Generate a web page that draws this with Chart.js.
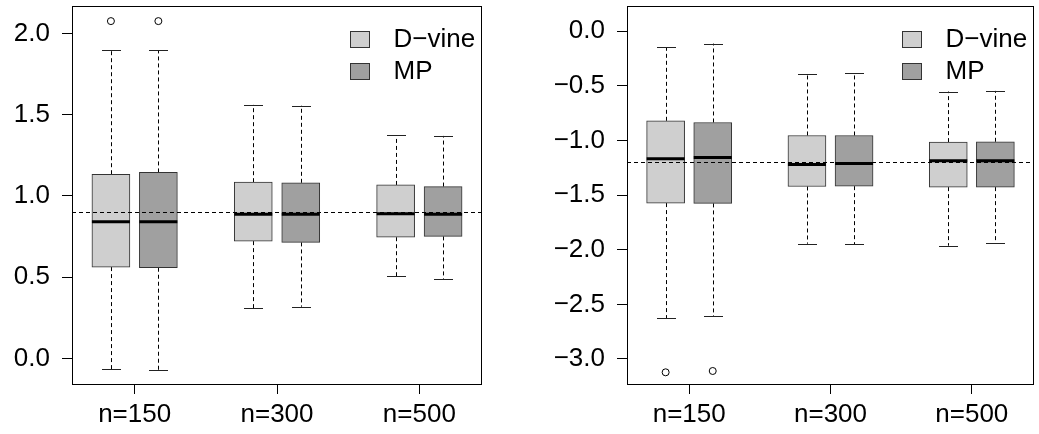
<!DOCTYPE html>
<html>
<head>
<meta charset="utf-8">
<script src="https://cdn.jsdelivr.net/npm/chart.js@4/dist/chart.umd.min.js"></script>
<style>
  html, body { margin: 0; padding: 0; background: #fff; }
  #wrap { position: relative; width: 1039px; height: 434px; overflow: hidden; }
  #c1 { position: absolute; left: 0; top: 0; }
  #c2 { position: absolute; left: 520px; top: 0; }
</style>
</head>
<body>
<div id="wrap">
  <canvas id="c1" width="520" height="434"></canvas>
  <canvas id="c2" width="519" height="434"></canvas>
</div>
<script>
// ---------- data ----------
const categories = ['n=150', 'n=300', 'n=500'];
const seriesNames = ['D\u2212vine', 'MP'];

// left panel
const leftDvineLow  = [-0.066, 0.310, 0.506];
const leftDvineQ1   = [0.562, 0.722, 0.746];
const leftDvineMed  = [0.841, 0.888, 0.890];
const leftDvineQ3   = [1.134, 1.085, 1.068];
const leftDvineHigh = [1.901, 1.561, 1.374];
const leftDvineOut  = [[2.077], [], []];

const leftMPLow  = [-0.072, 0.318, 0.486];
const leftMPQ1   = [0.558, 0.714, 0.751];
const leftMPMed  = [0.841, 0.888, 0.888];
const leftMPQ3   = [1.145, 1.081, 1.058];
const leftMPHigh = [1.899, 1.557, 1.370];
const leftMPOut  = [[2.077], [], []];

const leftRef = 0.9;
const leftYTicks = [0, 0.5, 1, 1.5, 2];

// right panel
const rightDvineLow  = [-2.628, -1.945, -1.963];
const rightDvineQ1   = [-1.573, -1.421, -1.427];
const rightDvineMed  = [-1.168, -1.219, -1.186];
const rightDvineQ3   = [-0.820, -0.954, -1.015];
const rightDvineHigh = [-0.146, -0.393, -0.552];
const rightDvineOut  = [[-3.122], [], []];

const rightMPLow  = [-2.610, -1.948, -1.942];
const rightMPQ1   = [-1.576, -1.418, -1.427];
const rightMPMed  = [-1.155, -1.210, -1.186];
const rightMPQ3   = [-0.835, -0.954, -1.012];
const rightMPHigh = [-0.113, -0.381, -0.546];
const rightMPOut  = [[-3.110], [], []];

const rightRef = -1.2;
const rightYTicks = [-3, -2.5, -2, -1.5, -1, -0.5, 0];

// ---------- styling ----------
const FONT = '"Liberation Sans", Arial, Helvetica, sans-serif';
const FONT_SIZE = 26;
const fills = ['#cfcfcf', '#a0a0a0'];
const groupPos = [1, 2, 3];
const offsets = [-1/6, 1/6];
const BOX_PX = 38;

function fmt(v) {
  return v.toFixed(1).replace('-', '\u2212');
}

function makeSeries(low, q1, med, q3, high, out) {
  return { low, q1, med, q3, high, out };
}

const boxPlugin = {
  id: 'boxExtras',
  beforeDatasetsDraw(chart, args, opts) {
    const ctx = chart.ctx;
    const xs = chart.scales.x, ys = chart.scales.y;
    ctx.save();
    opts.series.forEach((s, si) => {
      groupPos.forEach((g, gi) => {
        const x = Math.round(xs.getPixelForValue(g + offsets[si])) + 0.5;
        const yLow = ys.getPixelForValue(s.low[gi]);
        const yQ1 = ys.getPixelForValue(s.q1[gi]);
        const yQ3 = ys.getPixelForValue(s.q3[gi]);
        const yHigh = ys.getPixelForValue(s.high[gi]);
        ctx.strokeStyle = '#000';
        ctx.lineWidth = 1;
        ctx.setLineDash([4, 3]);
        ctx.beginPath();
        ctx.moveTo(x, yQ3); ctx.lineTo(x, yHigh);
        ctx.moveTo(x, yQ1); ctx.lineTo(x, yLow);
        ctx.stroke();
        ctx.setLineDash([]);
        ctx.strokeStyle = '#222';
        ctx.beginPath();
        const half = BOX_PX / 4;
        const yl = Math.round(yLow) + 0.5, yh = Math.round(yHigh) + 0.5;
        ctx.moveTo(x - half, yh); ctx.lineTo(x + half, yh);
        ctx.moveTo(x - half, yl); ctx.lineTo(x + half, yl);
        ctx.stroke();
      });
    });
    ctx.restore();
  },
  afterDatasetsDraw(chart, args, opts) {
    const ctx = chart.ctx;
    const xs = chart.scales.x, ys = chart.scales.y;
    const a = chart.chartArea;
    ctx.save();
    // medians
    opts.series.forEach((s, si) => {
      groupPos.forEach((g, gi) => {
        const x = xs.getPixelForValue(g + offsets[si]);
        const y = ys.getPixelForValue(s.med[gi]);
        ctx.strokeStyle = '#000';
        ctx.lineWidth = 3;
        ctx.beginPath();
        ctx.moveTo(x - BOX_PX / 2, y); ctx.lineTo(x + BOX_PX / 2, y);
        ctx.stroke();
      });
    });
    // reference line
    const yr = Math.round(ys.getPixelForValue(opts.ref)) + 0.5;
    ctx.lineWidth = 1;
    ctx.strokeStyle = '#000';
    ctx.setLineDash([4, 3]);
    ctx.beginPath();
    ctx.moveTo(a.left, yr); ctx.lineTo(a.right, yr);
    ctx.stroke();
    ctx.setLineDash([]);
    // frame
    ctx.strokeStyle = '#000';
    ctx.lineWidth = 1;
    ctx.strokeRect(Math.round(a.left) + 0.5, Math.round(a.top) + 0.5,
                   Math.round(a.right) - Math.round(a.left) - 1, Math.round(a.bottom) - Math.round(a.top));
    // legend
    const sx = a.right - 132;
    const rowY = [a.top + 33, a.top + 65];
    ctx.font = FONT_SIZE + 'px ' + FONT;
    ctx.textBaseline = 'middle';
    ctx.textAlign = 'left';
    chart.data.datasets.forEach((ds, i) => {
      if (ds.type === 'scatter') return;
      const y = rowY[i];
      ctx.fillStyle = ds.backgroundColor;
      ctx.fillRect(Math.round(sx) + 0.5, Math.round(y - 8) + 0.5, 19, 16);
      ctx.strokeStyle = '#333';
      ctx.lineWidth = 1;
      ctx.strokeRect(Math.round(sx) + 0.5, Math.round(y - 8) + 0.5, 19, 16);
      ctx.fillStyle = '#000';
      ctx.fillText(ds.label, sx + 43.5, y + 1);
    });
    ctx.restore();
  }
};

function buildChart(canvasId, series, yTicks, yMin, yMax, ref, yWidth, padRight) {
  const datasets = [];
  series.forEach((s, si) => {
    datasets.push({
      type: 'bar',
      label: seriesNames[si],
      data: groupPos.map((g, gi) => ({ x: g + offsets[si], y: [s.q1[gi], s.q3[gi]] })),
      backgroundColor: fills[si],
      borderColor: '#333',
      borderWidth: 1,
      borderSkipped: false,
      barThickness: BOX_PX,
      grouped: false
    });
  });
  series.forEach((s, si) => {
    const pts = [];
    groupPos.forEach((g, gi) => s.out[gi].forEach(v => pts.push({ x: g + offsets[si], y: v })));
    datasets.push({
      type: 'scatter',
      label: seriesNames[si] + ' outliers',
      data: pts,
      pointRadius: 3.5,
      pointBorderWidth: 1,
      pointBorderColor: '#000',
      pointBackgroundColor: 'rgba(0,0,0,0)'
    });
  });

  return new Chart(document.getElementById(canvasId), {
    type: 'bar',
    data: { datasets },
    plugins: [boxPlugin],
    options: {
      responsive: false,
      devicePixelRatio: 1,
      animation: false,
      layout: { padding: { top: 6, right: padRight, left: 0, bottom: 0 } },
      plugins: {
        legend: { display: false },
        tooltip: { enabled: false },
        boxExtras: { series, ref }
      },
      scales: {
        x: {
          type: 'linear',
          min: 0.56,
          max: 3.44,
          offset: false,
          border: { display: false },
          grid: { offset: false, drawOnChartArea: false, drawTicks: true, tickLength: 10, color: '#000', tickColor: '#000' },
          ticks: {
            padding: 5,
            color: '#000',
            font: { family: FONT, size: FONT_SIZE },
            maxRotation: 0,
            autoSkip: false,
            callback: (v) => {
              const i = groupPos.indexOf(v);
              return i >= 0 ? categories[i] : '';
            }
          },
          afterBuildTicks: (sc) => { sc.ticks = groupPos.map(v => ({ value: v })); },
          afterFit: (sc) => { sc.height = 50; sc.paddingLeft = 0; sc.paddingRight = 0; }
        },
        y: {
          type: 'linear',
          min: yMin,
          max: yMax,
          border: { display: false },
          grid: { offset: false, drawOnChartArea: false, drawTicks: true, tickLength: 10, color: '#000', tickColor: '#000' },
          ticks: {
            padding: 12,
            color: '#000',
            font: { family: FONT, size: FONT_SIZE },
            autoSkip: false,
            callback: (v) => fmt(v)
          },
          afterBuildTicks: (sc) => { sc.ticks = yTicks.map(v => ({ value: v })); },
          afterFit: (sc) => { sc.width = yWidth; sc.paddingTop = 0; sc.paddingBottom = 0; }
        }
      }
    }
  });
}

buildChart('c1',
  [makeSeries(leftDvineLow, leftDvineQ1, leftDvineMed, leftDvineQ3, leftDvineHigh, leftDvineOut),
   makeSeries(leftMPLow, leftMPQ1, leftMPMed, leftMPQ3, leftMPHigh, leftMPOut)],
  leftYTicks, -0.158, 2.17, leftRef, 72, 38);

buildChart('c2',
  [makeSeries(rightDvineLow, rightDvineQ1, rightDvineMed, rightDvineQ3, rightDvineHigh, rightDvineOut),
   makeSeries(rightMPLow, rightMPQ1, rightMPMed, rightMPQ3, rightMPHigh, rightMPOut)],
  rightYTicks, -3.229, 0.231, rightRef, 107, 2);
</script>
</body>
</html>
